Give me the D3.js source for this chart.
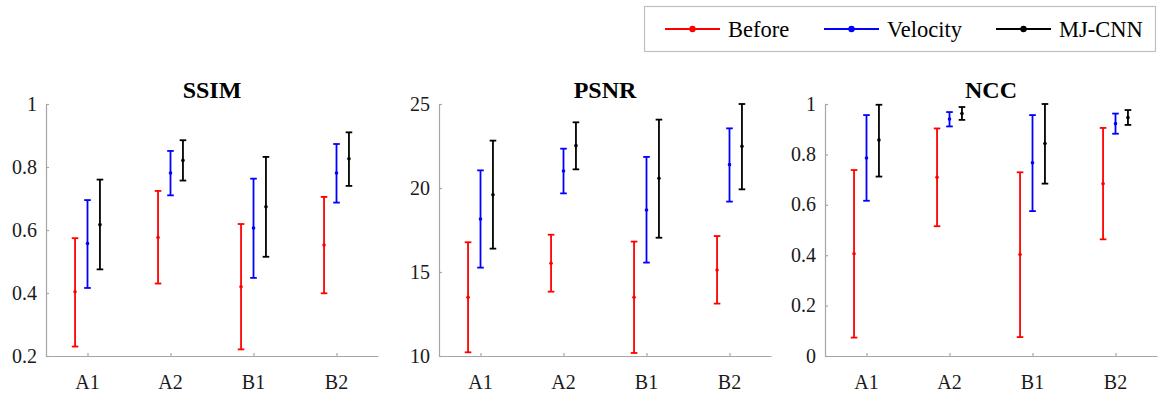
<html>
<head>
<meta charset="utf-8">
<script src="https://d3js.org/d3.v7.min.js"></script>
<style>
  body { margin: 0; background: #fff; }
  .lbl { font-family: "Liberation Serif", "Times New Roman", serif; }
</style>
</head>
<body>
<div id="chart"></div>
<script>

// Svg Dimensions
var svg_width = 1158
var svg_height = 393

// data
var categories = ["A1", "A2", "B1", "B2"]
var series_names = ["Before", "Velocity", "MJ-CNN"]
var series_colors = ["#ff0000", "#0000ff", "#000000"]

// SSIM  [mean, low, high] per category
var ssim_before   = [[0.404, 0.230, 0.574], [0.576, 0.430, 0.724], [0.420, 0.221, 0.619], [0.552, 0.399, 0.705]]
var ssim_velocity = [[0.557, 0.416, 0.695], [0.781, 0.710, 0.851], [0.606, 0.448, 0.763], [0.781, 0.687, 0.873]]
var ssim_mjcnn    = [[0.617, 0.475, 0.760], [0.821, 0.757, 0.885], [0.674, 0.515, 0.832], [0.826, 0.740, 0.910]]

// PSNR
var psnr_before   = [[13.49, 10.22, 16.77], [15.52, 13.83, 17.22], [13.49, 10.18, 16.81], [15.12, 13.12, 17.14]]
var psnr_velocity = [[18.15, 15.26, 21.05], [21.01, 19.68, 22.34], [18.69, 15.56, 21.85], [21.39, 19.19, 23.55]]
var psnr_mjcnn    = [[19.60, 16.39, 22.82], [22.52, 21.11, 23.91], [20.58, 17.04, 24.07], [22.48, 19.92, 25.00]]

// NCC
var ncc_before    = [[0.406, 0.073, 0.738], [0.709, 0.515, 0.903], [0.403, 0.075, 0.729], [0.684, 0.463, 0.905]]
var ncc_velocity  = [[0.786, 0.616, 0.956], [0.940, 0.911, 0.968], [0.767, 0.575, 0.956], [0.922, 0.882, 0.962]]
var ncc_mjcnn     = [[0.857, 0.712, 0.997], [0.962, 0.937, 0.988], [0.843, 0.684, 1.000], [0.946, 0.917, 0.976]]

var ssim_ticks = [0.2, 0.4, 0.6, 0.8, 1]
var psnr_ticks = [10, 15, 20, 25]
var ncc_ticks  = [0, 0.2, 0.4, 0.6, 0.8, 1]

var panels = [
  {title: "SSIM", left: 46,  domain: [0.2, 1], ticks: ssim_ticks, series: [ssim_before, ssim_velocity, ssim_mjcnn]},
  {title: "PSNR", left: 439, domain: [10, 25], ticks: psnr_ticks, series: [psnr_before, psnr_velocity, psnr_mjcnn]},
  {title: "NCC",  left: 825, domain: [0, 1],   ticks: ncc_ticks,  series: [ncc_before, ncc_velocity, ncc_mjcnn]}
]

var plot_top = 104
var plot_bottom = 356
var plot_width = 332
var axis_color = "#a6a6a6"
var offsets = [-0.15, 0, 0.15]
var cap_half = 3.3

var svg = d3.select("#chart").append("svg")
  .attr("width", svg_width)
  .attr("height", svg_height)

var x = d3.scalePoint()
  .domain(categories)
  .range([0, plot_width])
  .padding(0.5)

var panel_maker = function(p) {
  var g = svg.append("g")
    .attr("transform", "translate(" + p.left + ",0)")

  var y = d3.scaleLinear()
    .domain(p.domain)
    .range([plot_bottom, plot_top])

  // axis lines and inward ticks, labels drawn separately
  var xAxis = g.append("g")
    .attr("transform", "translate(0," + plot_bottom + ")")
    .call(d3.axisBottom(x).tickSizeInner(-3).tickSizeOuter(0).tickFormat(""))
  var yAxis = g.append("g")
    .call(d3.axisLeft(y).tickValues(p.ticks).tickSizeInner(-3).tickSizeOuter(0).tickFormat(""))

  ;[xAxis, yAxis].forEach(function(a) {
    a.select(".domain").attr("stroke", axis_color).attr("stroke-width", 1.2)
    a.selectAll(".tick line").attr("stroke", axis_color).attr("stroke-width", 1.2)
    a.selectAll(".tick text").remove()
  })

  g.selectAll(".ylbl")
    .data(p.ticks)
    .enter().append("text")
    .attr("class", "lbl")
    .text(function(d) { return d3.format("")(d) })
    .attr("x", -9)
    .attr("y", function(d) { return y(d) })
    .attr("dy", "0.33em")
    .attr("text-anchor", "end")
    .attr("font-size", 20)
    .attr("fill", "#1a1a1a")

  g.selectAll(".xlbl")
    .data(categories)
    .enter().append("text")
    .attr("class", "lbl")
    .text(function(d) { return d })
    .attr("x", function(d) { return x(d) })
    .attr("y", plot_bottom + 33)
    .attr("text-anchor", "middle")
    .attr("font-size", 20)
    .attr("fill", "#1a1a1a")

  g.append("text")
    .attr("class", "lbl")
    .text(p.title)
    .attr("x", plot_width / 2)
    .attr("y", 98)
    .attr("text-anchor", "middle")
    .attr("font-size", 24)
    .attr("font-weight", "bold")

  p.series.forEach(function(s, si) {
    var step = x.step()
    var sg = g.append("g")
      .attr("stroke", series_colors[si])
      .attr("fill", series_colors[si])

    var items = sg.selectAll(".bar")
      .data(s)
      .enter().append("g")
      .attr("transform", function(d, i) {
        return "translate(" + (x(categories[i]) + offsets[si] * step) + ",0)"
      })

    items.append("line")
      .attr("x1", 0).attr("x2", 0)
      .attr("y1", function(d) { return y(d[1]) })
      .attr("y2", function(d) { return y(d[2]) })
      .attr("stroke-width", 1.8)

    items.append("line")
      .attr("x1", -cap_half).attr("x2", cap_half)
      .attr("y1", function(d) { return y(d[1]) })
      .attr("y2", function(d) { return y(d[1]) })
      .attr("stroke-width", 1.8)

    items.append("line")
      .attr("x1", -cap_half).attr("x2", cap_half)
      .attr("y1", function(d) { return y(d[2]) })
      .attr("y2", function(d) { return y(d[2]) })
      .attr("stroke-width", 1.8)

    items.append("circle")
      .attr("cx", 0)
      .attr("cy", function(d) { return y(d[0]) })
      .attr("r", 1.8)
      .attr("stroke", "none")
  })
}

panels.forEach(panel_maker)

// legend
var legend = svg.append("g")

legend.append("rect")
  .attr("x", 644.5)
  .attr("y", 6.5)
  .attr("width", 511)
  .attr("height", 45)
  .attr("fill", "#fff")
  .attr("stroke", "#bfbfbf")
  .attr("stroke-width", 1.2)

var legend_x = [665, 824, 996]

series_names.forEach(function(name, i) {
  var lg = legend.append("g")
    .attr("transform", "translate(" + legend_x[i] + ",29)")

  lg.append("line")
    .attr("x1", 0).attr("x2", 55)
    .attr("y1", 0).attr("y2", 0)
    .attr("stroke", series_colors[i])
    .attr("stroke-width", 2.2)

  lg.append("circle")
    .attr("cx", 27.5).attr("cy", 0)
    .attr("r", 3.2)
    .attr("fill", series_colors[i])

  lg.append("text")
    .attr("class", "lbl")
    .text(name)
    .attr("x", 63)
    .attr("y", 8)
    .attr("font-size", 22.5)
    .attr("fill", "#000")
})

</script>
</body>
</html>
